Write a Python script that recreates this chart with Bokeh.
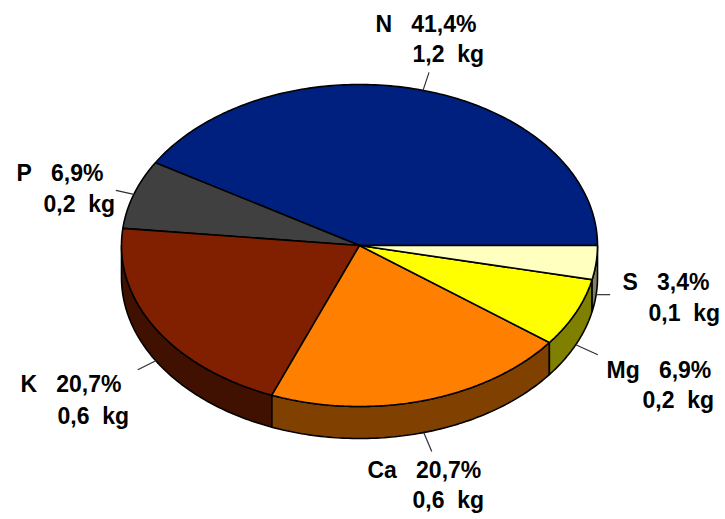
import numpy as np
from bokeh.plotting import figure
from bokeh.core.properties import value
from bokeh.embed import file_html
from bokeh.resources import INLINE

categories = ["N", "P", "K", "Ca", "Mg", "S"]
percents = [41.4, 6.9, 20.7, 20.7, 6.9, 3.4]
pct_labels = ["41,4%", "6,9%", "20,7%", "20,7%", "6,9%", "3,4%"]
kg_labels = ["1,2 kg", "0,2 kg", "0,6 kg", "0,6 kg", "0,2 kg", "0,1 kg"]
top_colors = ["#002080", "#404040", "#802000", "#FF8000", "#FFFF00", "#FFFFC0"]
side_colors = ["#001040", "#202020", "#401000", "#804000", "#808000", "#808060"]

# layout (reference pixel coordinates)
CX, CY, RX, RY, DEPTH = 359.0, 245.0, 238.0, 161.0, 32.0
line1_pos = [(375, 32), (16, 181), (20, 392), (367, 478), (606, 378), (622, 290)]
line2_pos = [(412, 62), (43, 212), (57, 424), (412, 508), (642, 408), (648, 321)]
leader_off = [(6, -18), (-18, -4), (-18, 9), (8, 19), (22, 10), (14, 0)]
TEXT_DY = -9

p = figure(width=725, height=519, x_range=(0, 725), y_range=(519, 0),
           output_backend="svg", toolbar_location=None, min_border=0,
           background_fill_color="white", border_fill_color="white")
p.axis.visible = False
p.grid.visible = False
p.outline_line_color = None

def ell(a, dz=0.0):
    return CX + RX * np.cos(a), CY - RY * np.sin(a) + dz

edges = np.radians(np.concatenate([[0], np.cumsum(percents) / np.sum(percents) * 360]))

# side walls (only the front half, 180..360 degrees)
for i in range(len(percents)):
    a0, a1 = max(edges[i], np.pi), edges[i + 1]
    if a1 <= a0:
        continue
    t = np.linspace(a0, a1, 80)
    xt, yt = ell(t)
    xb, yb = ell(t[::-1], DEPTH)
    p.patch(np.r_[xt, xb], np.r_[yt, yb], fill_color=side_colors[i],
            line_color="#000000", line_width=1.6)

# top faces
for i in range(len(percents)):
    t = np.linspace(edges[i], edges[i + 1], 160)
    xt, yt = ell(t)
    p.patch(np.r_[CX, xt], np.r_[CY, yt], fill_color=top_colors[i],
            line_color="#000000", line_width=1.6)

# leader lines
for i in range(len(percents)):
    m = (edges[i] + edges[i + 1]) / 2
    x0, y0 = ell(m, DEPTH if m > np.pi else 0.0)
    p.line([x0, x0 + leader_off[i][0]], [y0, y0 + leader_off[i][1]],
           line_color="#303030", line_width=1.2)

# labels
font = value("Liberation Sans")
for i, c in enumerate(categories):
    l1 = c + "\u00a0\u00a0 " + pct_labels[i]
    l2 = kg_labels[i].replace(" ", "\u00a0 ")
    for txt, (x, y) in ((l1, line1_pos[i]), (l2, line2_pos[i])):
        p.text([x], [y + TEXT_DY], text=[txt], text_font=font, text_font_size="23px",
               text_font_style="bold", text_color="#000000",
               text_align="left", text_baseline="alphabetic")

open("out.html", "w").write(file_html(p, INLINE))
